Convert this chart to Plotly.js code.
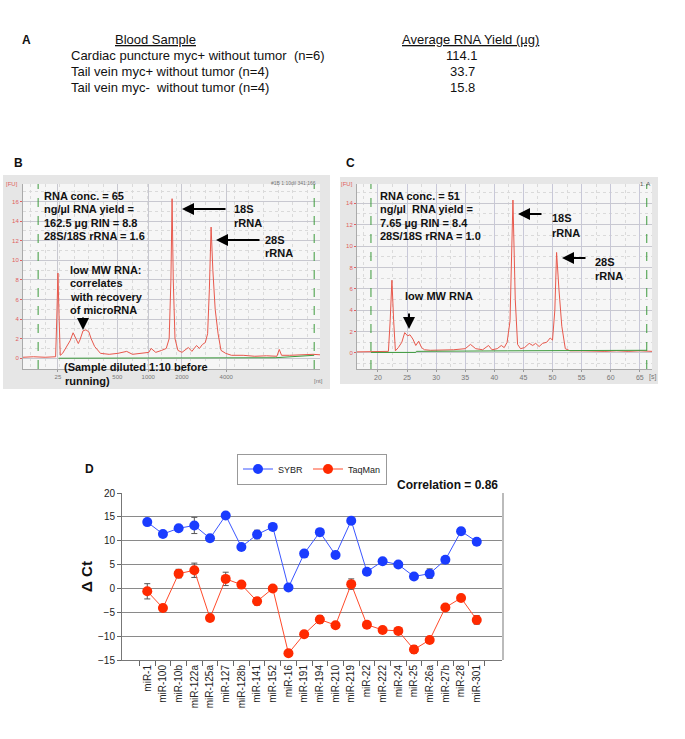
<!DOCTYPE html>
<html><head><meta charset="utf-8">
<script src="https://cdn.plot.ly/plotly-3.0.1.min.js"></script>
<style>html,body{margin:0;padding:0;background:#fff}#chart{width:685px;height:739px}</style>
</head><body><div id="chart"></div>
<script>
// ---------- Panel A: table ----------
const tableHeaders = ['Blood Sample', 'Average RNA Yield (µg)'];
const sampleNames = ['Cardiac puncture myc+ without tumor  (n=6)', 'Tail vein myc+ without tumor (n=4)', 'Tail vein myc-  without tumor (n=4)'];
const rnaYield = ['114.1', '33.7', '15.8'];

// ---------- Panel B: electropherogram (time in s, FU) ----------
const bTime = [16.2, 18, 20, 21.8, 22.0, 22.2, 22.4, 22.6, 23.0, 23.7, 24.3, 24.8, 25.3, 25.7, 26.0, 26.5, 27.0, 27.5, 27.9, 28.5, 29.5, 31, 32.5, 34, 35, 36.5, 37.8, 38.2, 39, 40, 40.8, 41.3, 41.6, 41.8, 42.0, 42.3, 42.8, 43.5, 44.2, 44.6, 45.2, 46, 46.5, 47, 47.5, 47.9, 48.2, 48.5, 48.8, 49.2, 49.7, 50.2, 51, 52, 54, 56, 58, 59.8, 60.2, 60.6, 62, 64, 66, 67.2];
const bFU   = [0.1, 0.15, 0.1, 0.15, 4, 8.7, 4, 0.3, 0.5, 1.2, 1.8, 2.6, 2.0, 1.5, 1.9, 2.8, 2.9, 2.7, 2.0, 1.2, 0.5, 0.4, 0.5, 0.7, 0.4, 0.5, 0.6, 1.0, 0.6, 0.8, 1.0, 2.0, 8, 16.3, 8, 2, 0.8, 0.6, 0.9, 1.1, 0.7, 1.3, 1.0, 1.4, 1.6, 2.5, 7, 13.4, 9, 5, 2.5, 0.8, 0.5, 0.3, 0.3, 0.2, 0.25, 0.2, 0.9, 0.3, 0.3, 0.35, 0.4, 0.35];
const bBaseTime = [22.3, 59.5, 66.2];
const bBaseFU = [0.0, 0.05, 0.3];
const bTickPos = [22.2, 32.4, 37.7, 43.5, 51.1];
const bTickText = ['25', '500', '1000', '2000', '4000'];
const ladderMarkers = [18.8, 66.2];

// ---------- Panel C: electropherogram ----------
const cTime = [16.4, 18, 20, 21.8, 22.1, 22.4, 22.7, 23.0, 23.5, 24.1, 24.6, 25.1, 25.5, 26.0, 26.5, 27.0, 27.5, 28, 29, 31, 33, 35, 35.9, 36.8, 38, 39, 39.6, 40.5, 41.2, 41.7, 42.2, 42.7, 43.2, 43.6, 44.0, 44.5, 45.2, 46.0, 46.6, 47.1, 47.7, 48.3, 49.0, 49.6, 50.0, 50.4, 50.7, 51.1, 51.6, 52.2, 53, 55, 57, 59, 61, 63, 65, 67.1];
const cFU   = [0.1, 0.1, 0.15, 0.15, 3, 6.8, 3, 0.2, 0.5, 1.0, 1.9, 1.6, 1.7, 1.3, 0.7, 1.1, 0.5, 0.3, 0.25, 0.25, 0.3, 0.4, 0.8, 0.4, 0.3, 0.7, 0.3, 0.4, 0.7, 0.5, 1.0, 3, 14.3, 5, 0.8, 0.4, 0.5, 0.9, 0.7, 0.9, 0.6, 0.9, 1.0, 1.4, 1.2, 4, 9.4, 6, 2.5, 0.4, 0.2, 0.2, 0.15, 0.15, 0.2, 0.15, 0.2, 0.15];
const cBaseTime = [18.8, 26.5, 26.6, 42.2, 42.3, 66.2];
const cBaseFU = [0.05, 0.05, 0.15, 0.15, 0.2, 0.25];

// ---------- Panel D: delta Ct ----------
const mirnas = ['miR-1','miR-100','miR-10b','miR-122a','miR-125a','miR-127','miR-128b','miR-141','miR-152','miR-16','miR-191','miR-194','miR-210','miR-219','miR-22','miR-222','miR-24','miR-25','miR-26a','miR-27b','miR-28','miR-301'];
const sybr    = [13.9, 11.4, 12.6, 13.2, 10.5, 15.3, 8.7, 11.3, 12.9, 0.2, 7.3, 11.8, 7.0, 14.2, 3.5, 5.7, 5.0, 2.5, 3.1, 6.0, 12.0, 9.8];
const sybrErr = [0.5, 0.7, 0.5, 1.7, 0.4, 0.6, 0.4, 0.9, 0.4, 0.4, 0.5, 0.6, 0.6, 0.4, 0.4, 0.5, 0.6, 0.5, 1.0, 0.6, 0.7, 0.6];
const taqman  = [-0.6, -4.1, 3.1, 3.8, -6.2, 2.0, 0.8, -2.7, 0.0, -13.6, -9.6, -6.5, -7.7, 0.9, -7.6, -8.7, -8.9, -12.8, -10.8, -4.0, -2.0, -6.6];
const taqErr  = [1.6, 0.4, 0.9, 1.5, 0.5, 1.4, 0.5, 0.8, 0.4, 0.4, 0.6, 0.8, 0.5, 1.1, 0.7, 0.5, 0.7, 0.8, 0.5, 0.5, 0.5, 0.9];

// ---------- helpers ----------
const W = 685, H = 739;
const X = p => p / W;
const Y = p => 1 - p / H;
const FONT = 'Arial, Liberation Sans, sans-serif';
function T(text, x, y, size, opts) {
  return Object.assign({text: text, x: X(x), y: Y(y), xref: 'paper', yref: 'paper', showarrow: false,
    xanchor: 'left', yanchor: 'middle', font: {family: FONT, size: size, color: '#111'}}, opts || {});
}
function ARW(hx, hy, tx, ty) {
  return {x: X(hx), y: Y(hy), xref: 'paper', yref: 'paper', ax: tx - hx, ay: ty - hy,
    text: '', showarrow: true, arrowhead: 2, arrowsize: 1.2, arrowwidth: 2, arrowcolor: '#000'};
}

const traces = [
  {x: bTime, y: bFU, xaxis: 'x', yaxis: 'y', mode: 'lines', line: {color: '#e8584c', width: 1}, showlegend: false, hoverinfo: 'skip'},
  {x: bBaseTime, y: bBaseFU, xaxis: 'x', yaxis: 'y', mode: 'lines', line: {color: '#3c9a3c', width: 1}, showlegend: false, hoverinfo: 'skip'},
  {x: cTime, y: cFU, xaxis: 'x2', yaxis: 'y2', mode: 'lines', line: {color: '#e8584c', width: 1}, showlegend: false, hoverinfo: 'skip'},
  {x: cBaseTime, y: cBaseFU, xaxis: 'x2', yaxis: 'y2', mode: 'lines', line: {color: '#3c9a3c', width: 1}, showlegend: false, hoverinfo: 'skip'},
  {x: mirnas, y: sybr, name: 'SYBR', xaxis: 'x3', yaxis: 'y3', mode: 'lines+markers',
   line: {color: '#3a55ff', width: 1}, marker: {color: '#1a3cff', size: 10},
   error_y: {type: 'data', array: sybrErr, visible: true, color: '#555', thickness: 1, width: 3}},
  {x: mirnas, y: taqman, name: 'TaqMan', xaxis: 'x3', yaxis: 'y3', mode: 'lines+markers',
   line: {color: '#ff4a2a', width: 1}, marker: {color: '#ff2a00', size: 10},
   error_y: {type: 'data', array: taqErr, visible: true, color: '#555', thickness: 1, width: 3}}
];

const eAxisY = {tick0: 0, dtick: 2, tickfont: {family: FONT, size: 6, color: '#e06060'}, showgrid: true,
  gridcolor: '#c8c8d0', gridwidth: 1, zeroline: false, showline: true, linecolor: '#aaa', ticks: 'outside',
  ticklen: 2, tickcolor: '#e06060', minor: {dtick: 1, showgrid: true, gridcolor: '#dadada', griddash: 'dot'}};

const layout = {
  width: W, height: H, margin: {l: 0, r: 0, t: 0, b: 0},
  paper_bgcolor: '#ffffff', plot_bgcolor: 'rgba(0,0,0,0)',
  font: {family: FONT},
  xaxis: {domain: [X(23), X(320)], anchor: 'y', range: [16.2, 67.2], tickmode: 'array', tickvals: bTickPos, ticktext: bTickText,
    tickfont: {family: FONT, size: 6, color: '#777'}, showgrid: true, gridcolor: '#c8c8d0', zeroline: false,
    showline: true, linecolor: '#aaa', ticks: 'outside', ticklen: 2, tickcolor: '#999',
    minor: {tickmode: 'linear', tick0: 0, dtick: 2.5, showgrid: true, gridcolor: '#dadada', griddash: 'dot'}},
  yaxis: Object.assign({domain: [Y(369), Y(184)], anchor: 'x', range: [-1.1, 17.8]}, eAxisY),
  xaxis2: {domain: [X(357), X(652)], anchor: 'y2', range: [16.4, 67.1], tick0: 0, dtick: 5,
    tickfont: {family: FONT, size: 7, color: '#777'}, showgrid: true, gridcolor: '#c8c8d8', zeroline: false,
    showline: true, linecolor: '#aaa', ticks: 'outside', ticklen: 2, tickcolor: '#999',
    minor: {dtick: 2.5, showgrid: true, gridcolor: '#dadada', griddash: 'dot'}},
  yaxis2: Object.assign({domain: [Y(369), Y(184)], anchor: 'x2', range: [-1.5, 15.8]}, eAxisY),
  xaxis3: {domain: [X(122), X(502)], anchor: 'y3', type: 'category', tickangle: -90, tickson: 'boundaries',
    ticks: 'outside', ticklen: 5, tickcolor: '#666', showline: true, linecolor: '#777', showgrid: false,
    tickfont: {family: FONT, size: 10, color: '#222'}},
  yaxis3: {domain: [Y(660), Y(493)], anchor: 'x3', range: [-15, 20], tick0: 0, dtick: 5, showgrid: true,
    gridcolor: '#8a8a8a', zeroline: false, showline: true, linecolor: '#777', ticks: 'outside', ticklen: 4, tickcolor: '#666',
    tickfont: {family: FONT, size: 10, color: '#222'},
    title: {text: '<b>Δ Ct</b>', font: {family: FONT, size: 15, color: '#111'}, standoff: 1}},
  legend: {x: X(312), y: Y(469), xanchor: 'center', yanchor: 'middle', orientation: 'h',
    bordercolor: '#999', borderwidth: 1, bgcolor: '#fff', font: {family: FONT, size: 9, color: '#222'},
    tracegroupgap: 0, itemwidth: 30},
  shapes: [
    {type: 'rect', xref: 'paper', yref: 'paper', x0: X(3), x1: X(330), y0: Y(389), y1: Y(175), fillcolor: '#e6e6e6', line: {width: 0}, layer: 'below'},
    {type: 'rect', xref: 'paper', yref: 'paper', x0: X(23), x1: X(320), y0: Y(369), y1: Y(184), fillcolor: '#f6f6f6', line: {width: 0}, layer: 'below'},
    {type: 'rect', xref: 'paper', yref: 'paper', x0: X(340), x1: X(658), y0: Y(384), y1: Y(177), fillcolor: '#e6e6e6', line: {width: 0}, layer: 'below'},
    {type: 'rect', xref: 'paper', yref: 'paper', x0: X(357), x1: X(652), y0: Y(369), y1: Y(184), fillcolor: '#f6f6f6', line: {width: 0}, layer: 'below'},
    {type: 'line', xref: 'x', yref: 'y domain', x0: ladderMarkers[0], x1: ladderMarkers[0], y0: 0, y1: 1, line: {color: '#3c9a3c', width: 1, dash: 'dash'}},
    {type: 'line', xref: 'x', yref: 'y domain', x0: ladderMarkers[1], x1: ladderMarkers[1], y0: 0, y1: 1, line: {color: '#3c9a3c', width: 1, dash: 'dash'}},
    {type: 'line', xref: 'x2', yref: 'y2 domain', x0: ladderMarkers[0], x1: ladderMarkers[0], y0: 0, y1: 1, line: {color: '#3c9a3c', width: 1, dash: 'dash'}},
    {type: 'line', xref: 'x2', yref: 'y2 domain', x0: ladderMarkers[1], x1: ladderMarkers[1], y0: 0, y1: 1, line: {color: '#3c9a3c', width: 1, dash: 'dash'}},
    {type: 'line', xref: 'paper', yref: 'paper', x0: X(503), x1: X(503), y0: Y(660), y1: Y(493), line: {color: '#bbbbbb', width: 2}}
  ],
  annotations: []
};

const A = layout.annotations;
// Panel A
const TF = {family: FONT, size: 13, color: '#111'};
A.push(T('<b>A</b>', 26, 40, 12, {xanchor: 'center'}));
A.push(T('<u>' + tableHeaders[0] + '</u>', 155, 40, 13, {xanchor: 'center', font: TF}));
A.push(T('<u>' + tableHeaders[1] + '</u>', 470, 40, 13, {xanchor: 'center', font: TF}));
const rowY = [56, 72, 87];
sampleNames.forEach((s, i) => {
  A.push(T(s, 69, rowY[i], 13, {font: TF}));
  A.push(T(rnaYield[i], 462, rowY[i], 13, {xanchor: 'center', font: TF}));
});
// Panel B
A.push(T('<b>B</b>', 18, 163, 12, {xanchor: 'center'}));
['RNA conc. = 65', 'ng/µl RNA yield =', '162.5 µg RIN = 8.8', '28S/18S rRNA = 1.6'].forEach((s, i) => A.push(T('<b>' + s + '</b>', 42, [196, 209, 223, 236][i], 11)));
A.push(T('<b>18S</b>', 232, 209, 11)); A.push(T('<b>rRNA</b>', 232, 223, 11));
A.push(T('<b>28S</b>', 263, 240, 11)); A.push(T('<b>rRNA</b>', 263, 253, 11));
['low MW RNA:', 'correlates', 'with recovery', 'of microRNA'].forEach((s, i) => A.push(T('<b>' + s + '</b>', 68, [270, 283, 297, 310][i], 11)));
A.push(T('<b>(Sample diluted 1:10 before</b>', 62, 367, 11));
A.push(T('<b>running)</b>', 63, 381, 11));
A.push(ARW(182, 209, 227, 209)); A.push(ARW(216, 240, 261, 240)); A.push(ARW(83, 330, 83, 316));
A.push(T('[FU]', 12, 184, 6, {xanchor: 'center', font: {family: FONT, size: 6, color: '#e06060'}}));
A.push(T('[nt]', 318, 381, 6, {xanchor: 'center', font: {family: FONT, size: 6, color: '#777'}}));
A.push(T('#1B 1:10dil 341:166', 318, 183, 5, {xanchor: 'right', font: {family: FONT, size: 5, color: '#777'}}));
// Panel C
A.push(T('<b>C</b>', 350, 163, 12, {xanchor: 'center'}));
['RNA conc. = 51', 'ng/µl  RNA yield =', '7.65 µg RIN = 8.4', '28S/18S rRNA = 1.0'].forEach((s, i) => A.push(T('<b>' + s + '</b>', 378, [196, 209, 223, 236][i], 11)));
A.push(T('<b>18S</b>', 550, 218, 11)); A.push(T('<b>rRNA</b>', 550, 233, 11));
A.push(T('<b>28S</b>', 593, 262, 11)); A.push(T('<b>rRNA</b>', 593, 276, 11));
A.push(T('<b>low MW RNA</b>', 403, 296, 11));
A.push(ARW(518, 214, 543, 214)); A.push(ARW(562, 258, 587, 258)); A.push(ARW(409, 329, 409, 312));
A.push(T('[FU]', 347, 184, 6, {xanchor: 'center', font: {family: FONT, size: 6, color: '#e06060'}}));
A.push(T('[s]', 652, 377, 7, {xanchor: 'center', font: {family: FONT, size: 7, color: '#777'}}));
A.push(T('1. A', 652, 184, 6, {xanchor: 'right', font: {family: FONT, size: 6, color: '#555'}}));
// Panel D
A.push(T('<b>D</b>', 89, 469, 12, {xanchor: 'center'}));
A.push(T('<b>Correlation = 0.86</b>', 500, 485, 12, {xanchor: 'right'}));

Plotly.newPlot('chart', traces, layout, {staticPlot: true});
</script>
</body></html>
